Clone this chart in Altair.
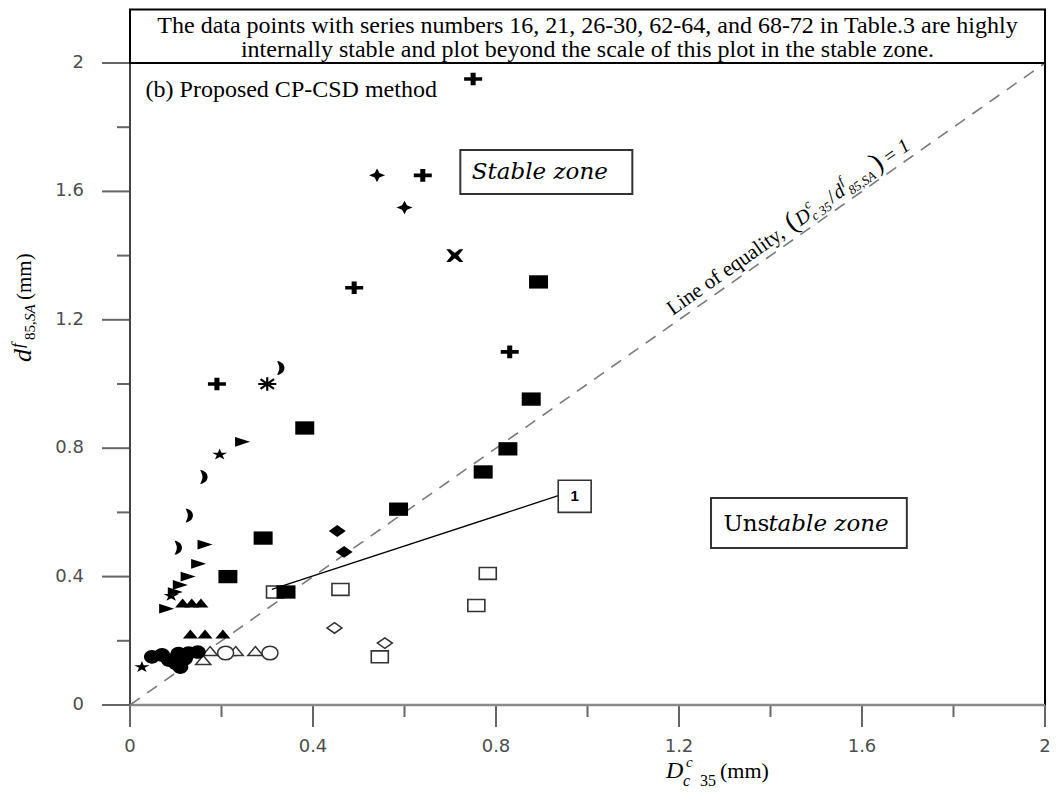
import altair as alt
import pandas as pd

W, H = 915, 642          # plot area
OX, OY = 130, 63         # screen position of the plot origin (top-left)

# ---------------- data ----------------
plus_x = [0.75, 0.64, 0.49, 0.83, 0.19]
plus_y = [1.95, 1.65, 1.30, 1.10, 1.00]
star4_x = [0.54, 0.60]
star4_y = [1.65, 1.55]
xmark_x = [0.71]
xmark_y = [1.40]
aster_x = [0.30]
aster_y = [1.00]
moon_x = [0.33, 0.162, 0.13, 0.106]
moon_y = [1.05, 0.71, 0.59, 0.49]
trir_x = [0.246, 0.164, 0.15, 0.127, 0.11, 0.099, 0.08]
trir_y = [0.82, 0.50, 0.44, 0.40, 0.374, 0.352, 0.30]
star_x = [0.196, 0.09, 0.026]
star_y = [0.78, 0.34, 0.118]
sq_x = [0.893, 0.877, 0.382, 0.826, 0.772, 0.587, 0.291, 0.214, 0.341]
sq_y = [1.318, 0.953, 0.863, 0.798, 0.726, 0.61, 0.52, 0.40, 0.352]
dia_x = [0.453, 0.468]
dia_y = [0.542, 0.477]
osq_x = [0.317, 0.46, 0.782, 0.757, 0.546]
osq_y = [0.352, 0.36, 0.41, 0.31, 0.15]
odia_x = [0.447, 0.557]
odia_y = [0.24, 0.193]
tri_x = [0.115, 0.135, 0.155, 0.132, 0.164, 0.203]
tri_y = [0.318, 0.318, 0.318, 0.221, 0.221, 0.221]
otri_x = [0.175, 0.214, 0.231, 0.274, 0.16]
otri_y = [0.168, 0.168, 0.168, 0.168, 0.14]
ocirc_x = [0.209, 0.306]
ocirc_y = [0.162, 0.162]
circ_x = [0.048, 0.07, 0.085, 0.106, 0.128, 0.148, 0.10, 0.11, 0.12]
circ_y = [0.15, 0.156, 0.14, 0.16, 0.162, 0.165, 0.13, 0.118, 0.145]

equality_x = [0, 2]
equality_y = [0, 2]
callout_x = [0.31, 0.936]
callout_y = [0.36, 0.652]

major_ticks = [0, 0.4, 0.8, 1.2, 1.6, 2]
minor_ticks = [0.2, 0.6, 1.0, 1.4, 1.8]
tick_labels = [f"{v:g}" for v in major_ticks]

banner_lines = [
    "The data points with series numbers 16, 21, 26-30, 62-64, and 68-72 in Table.3 are highly",
    "internally stable and plot beyond the scale of this plot in the stable zone.",
]

# ---------------- marker shapes ----------------
SQ = "M-1,-0.7L1,-0.7L1,0.7L-1,0.7Z"
PLUS = ("M-1,-0.2L-0.28,-0.2L-0.28,-0.7L0.28,-0.7L0.28,-0.2L1,-0.2L1,0.2L0.28,0.2"
        "L0.28,0.7L-0.28,0.7L-0.28,0.2L-1,0.2Z")
STAR4 = "M0,-0.85L0.3,-0.28L1,0L0.3,0.28L0,0.85L-0.3,0.28L-1,0L-0.3,-0.28Z"
XMARK = ("M-1,-0.75L-0.55,-0.75L0,-0.3L0.55,-0.75L1,-0.75L0.4,0L1,0.75L0.55,0.75"
         "L0,0.3L-0.55,0.75L-1,0.75L-0.4,0Z")
ASTER = "M-1,0L1,0M0,-0.75L0,0.75M-0.75,-0.55L0.75,0.55M-0.75,0.55L0.75,-0.55"
MOON = "M-0.55,-1C0.85,-0.8 0.85,0.8 -0.55,1L-0.35,0.5C-0.2,0.3 -0.2,-0.3 -0.35,-0.5Z"
TRIR = "M-1,-0.65L1,0L-1,0.65Z"
STAR5 = ("M0,-0.75L0.223,-0.23L0.951,-0.232L0.361,0.088L0.588,0.607L0,0.285"
         "L-0.588,0.607L-0.361,0.088L-0.951,-0.232L-0.223,-0.23Z")
DIA = "M0,-0.7L1,0L0,0.7L-1,0Z"
TRI = "M0,-0.6L1,0.6L-1,0.6Z"
ELL = "M-1,0A1,0.85 0 1,0 1,0A1,0.85 0 1,0 -1,0Z"

xs = alt.Scale(domain=[0, 2], nice=False, zero=False)
ys = alt.Scale(domain=[0, 2], nice=False, zero=False)

LABEL_FONT = "DejaVu Sans"
TICK_C = "#666666"
SERIF = "Liberation Serif"
ONE = alt.Data(values=[{}])


def XY():
    return dict(x=alt.X("x:Q", scale=xs, axis=None),
                y=alt.Y("y:Q", scale=ys, axis=None))


def pts(xv, yv, shape, size, fill="black", stroke=None, sw=0.0):
    df = pd.DataFrame({"x": xv, "y": yv})
    kw = dict(shape=shape, size=size, filled=True, fill=fill, opacity=1,
              fillOpacity=1, clip=False)
    if stroke:
        kw.update(stroke=stroke, strokeWidth=sw, strokeOpacity=1)
    else:
        kw.update(strokeWidth=0)
    return alt.Chart(df).mark_point(**kw).encode(**XY())


def dtext(t, x, y, **kw):
    return alt.Chart(ONE).mark_text(text=t, clip=False, **kw).encode(
        x=alt.XDatum(x, scale=xs, axis=None), y=alt.YDatum(y, scale=ys, axis=None))


def ptext(t, sx, sy, **kw):
    return alt.Chart(ONE).mark_text(text=t, clip=False, **kw).encode(
        x=alt.value(sx - OX), y=alt.value(sy - OY))


def drect(x0, x1, y0, y1, **kw):
    return alt.Chart(ONE).mark_rect(clip=False, **kw).encode(
        x=alt.XDatum(x0, scale=xs, axis=None), x2=alt.X2Datum(x1),
        y=alt.YDatum(y0, scale=ys, axis=None), y2=alt.Y2Datum(y1))


layers = []

# ---- hand-built axes (ticks, labels, domain lines) ----
major_df = pd.DataFrame({"v": major_ticks, "lab": tick_labels})
minor_df = pd.DataFrame({"v": minor_ticks})
layers.append(alt.Chart(major_df).mark_rule(color=TICK_C, strokeWidth=2)
              .encode(y=alt.Y("v:Q", scale=ys, axis=None), x=alt.value(-28), x2=alt.value(0)))
layers.append(alt.Chart(minor_df).mark_rule(color=TICK_C, strokeWidth=2)
              .encode(y=alt.Y("v:Q", scale=ys, axis=None), x=alt.value(-13), x2=alt.value(0)))
layers.append(alt.Chart(major_df).mark_rule(color=TICK_C, strokeWidth=2)
              .encode(x=alt.X("v:Q", scale=xs, axis=None), y=alt.value(H), y2=alt.value(H + 22)))
layers.append(alt.Chart(minor_df).mark_rule(color=TICK_C, strokeWidth=2)
              .encode(x=alt.X("v:Q", scale=xs, axis=None), y=alt.value(H), y2=alt.value(H + 12)))
layers.append(alt.Chart(major_df).mark_text(font=LABEL_FONT, fontSize=18, color="#4d4d4d",
                                            align="right", baseline="middle", clip=False)
              .encode(y=alt.Y("v:Q", scale=ys, axis=None), x=alt.value(-46), text="lab:N"))
layers.append(alt.Chart(major_df).mark_text(font=LABEL_FONT, fontSize=18, color="#4d4d4d",
                                            align="center", baseline="top", clip=False)
              .encode(x=alt.X("v:Q", scale=xs, axis=None), y=alt.value(H + 33), text="lab:N"))
layers.append(alt.Chart(ONE).mark_rule(color="#8a8a8a", strokeWidth=2.5)
              .encode(x=alt.value(0), x2=alt.value(W), y=alt.value(H)))
layers.append(alt.Chart(ONE).mark_rule(color="#444444", strokeWidth=2)
              .encode(x=alt.value(0), y=alt.value(0), y2=alt.value(H)))

# line of equality
layers.append(alt.Chart(pd.DataFrame({"x": equality_x, "y": equality_y}))
              .mark_line(color="#7a7a7a", strokeWidth=1.6, strokeDash=[12, 9], clip=False)
              .encode(**XY()))

# banner above the plot
layers.append(drect(0, 2, 2, 2.167, fill="white", stroke="black", strokeWidth=2))
layers.append(dtext(banner_lines[0], 1.0, 2.115, font=SERIF, fontSize=24,
                    align="center", baseline="middle", color="black"))
layers.append(dtext(banner_lines[1], 1.0, 2.040, font=SERIF, fontSize=24,
                    align="center", baseline="middle", color="black"))

# panel label
layers.append(dtext("(b) Proposed CP-CSD method", 0.034, 1.916, font=SERIF,
                    fontSize=24, align="left", baseline="middle", color="black"))

# zone boxes
layers.append(drect(0.722, 1.098, 1.592, 1.729, fill="white", stroke="#333333", strokeWidth=2))
layers.append(dtext("Stable zone", 0.747, 1.66, font="DejaVu Serif", fontStyle="italic",
                    fontSize=23, align="left", baseline="middle", color="black"))
layers.append(drect(1.27, 1.698, 0.489, 0.645, fill="white", stroke="#333333", strokeWidth=2))
layers.append(dtext("Uns", 1.297, 0.564, font="DejaVu Serif", fontSize=23,
                    align="left", baseline="middle", color="black"))
layers.append(dtext("table zone", 1.297, 0.564, dx=45, font="DejaVu Serif", fontStyle="italic",
                    fontSize=23, align="left", baseline="middle", color="black"))

# open markers
layers.append(pts(osq_x, osq_y, SQ, 289, fill="white", stroke="#333333", sw=1.6))
layers.append(pts(odia_x, odia_y, DIA, 225, fill="white", stroke="#333333", sw=1.5))
layers.append(pts(otri_x, otri_y, TRI, 225, fill="white", stroke="#333333", sw=1.5))
layers.append(pts(ocirc_x, ocirc_y, ELL, 256, fill="white", stroke="#333333", sw=1.5))

# filled markers
layers.append(pts(circ_x, circ_y, ELL, 256))
layers.append(pts(tri_x, tri_y, TRI, 225))
layers.append(pts(trir_x, trir_y, TRIR, 225))
layers.append(pts(star_x, star_y, STAR5, 256))
layers.append(pts(moon_x, moon_y, MOON, 196))
layers.append(pts(sq_x, sq_y, SQ, 361))
layers.append(pts(dia_x, dia_y, DIA, 289))
layers.append(pts(plus_x, plus_y, PLUS, 324))
layers.append(pts(star4_x, star4_y, STAR4, 256))
layers.append(pts(xmark_x, xmark_y, XMARK, 289))
layers.append(alt.Chart(pd.DataFrame({"x": aster_x, "y": aster_y}))
              .mark_point(shape=ASTER, size=324, filled=False, stroke="black", strokeWidth=2.2,
                          fill="transparent", opacity=1, clip=False)
              .encode(**XY()))

# callout "1"
layers.append(alt.Chart(pd.DataFrame({"x": callout_x, "y": callout_y}))
              .mark_line(color="black", strokeWidth=1.3, clip=False).encode(**XY()))
layers.append(drect(0.936, 1.008, 0.60, 0.70, fill="white", stroke="#333333", strokeWidth=1.6))
layers.append(dtext("1", 0.972, 0.65, font="Liberation Sans", fontWeight="bold", fontSize=15,
                    align="center", baseline="middle", color="black"))

# rotated label on the line of equality
A = 325.0
LQ = dict(angle=A, align="left", baseline="alphabetic", color="black")
eq = 1.195
b = -7
layers.append(dtext("Line of equality,", eq, eq, dx=0, dy=b, font=SERIF, fontSize=21, **LQ))
layers.append(dtext("(", eq, eq, dx=146, dy=b, font=SERIF, fontSize=28, **LQ))
layers.append(dtext("D", eq, eq, dx=156, dy=b, font=SERIF, fontStyle="italic", fontSize=20, **LQ))
layers.append(dtext("c", eq, eq, dx=171, dy=b - 10, font=SERIF, fontStyle="italic", fontSize=13, **LQ))
layers.append(dtext("c 35", eq, eq, dx=171, dy=b + 4, font=SERIF, fontStyle="italic", fontSize=13, **LQ))
layers.append(dtext("/", eq, eq, dx=195, dy=b, font=SERIF, fontSize=20, **LQ))
layers.append(dtext("d", eq, eq, dx=202, dy=b, font=SERIF, fontStyle="italic", fontSize=20, **LQ))
layers.append(dtext("f", eq, eq, dx=213, dy=b - 10, font=SERIF, fontStyle="italic", fontSize=13, **LQ))
layers.append(dtext("85,SA", eq, eq, dx=216, dy=b + 4, font=SERIF, fontStyle="italic", fontSize=13, **LQ))
layers.append(dtext(")", eq, eq, dx=250, dy=b, font=SERIF, fontSize=28, **LQ))
layers.append(dtext("= 1", eq, eq, dx=263, dy=b, font=SERIF, fontStyle="italic", fontSize=20, **LQ))

# x axis title  D^c_c35 (mm)
layers.append(ptext("D", 666, 778, font=SERIF, fontStyle="italic", fontSize=24, align="left",
                    baseline="alphabetic", color="black"))
layers.append(ptext("c", 686, 767, font=SERIF, fontStyle="italic", fontSize=15, align="left",
                    baseline="alphabetic", color="black"))
layers.append(ptext("c", 683, 786, font=SERIF, fontStyle="italic", fontSize=16, align="left",
                    baseline="alphabetic", color="black"))
layers.append(ptext("35", 700, 786, font=SERIF, fontSize=16, align="left",
                    baseline="alphabetic", color="black"))
layers.append(ptext("(mm)", 720, 778, font=SERIF, fontSize=22, align="left",
                    baseline="alphabetic", color="black"))

# y axis title  d^f_85,SA (mm)  (rotated)
YR = dict(angle=270, align="left", baseline="alphabetic", color="black")
yb, ys0 = 31, 362
layers.append(ptext("d", yb, ys0, dx=0, font=SERIF, fontStyle="italic", fontSize=26, **YR))
layers.append(ptext("f", yb, ys0, dx=14, dy=-8, font=SERIF, fontStyle="italic", fontSize=17, **YR))
layers.append(ptext("85,", yb, ys0, dx=22, dy=4, font=SERIF, fontSize=15, **YR))
layers.append(ptext("SA", yb, ys0, dx=41, dy=4, font=SERIF, fontStyle="italic", fontSize=15, **YR))
layers.append(ptext("(mm)", yb, ys0, dx=62, font=SERIF, fontSize=21, **YR))

chart = (alt.layer(*layers)
         .properties(width=W, height=H,
                     autosize=alt.AutoSizeParams(type="none"),
                     padding={"left": OX - 8, "top": OY - 8, "right": 7, "bottom": 87},
                     background="white")
         .configure_view(stroke="black", strokeWidth=2))

chart.save("out.html", embed_options={"renderer": "svg", "actions": False})
